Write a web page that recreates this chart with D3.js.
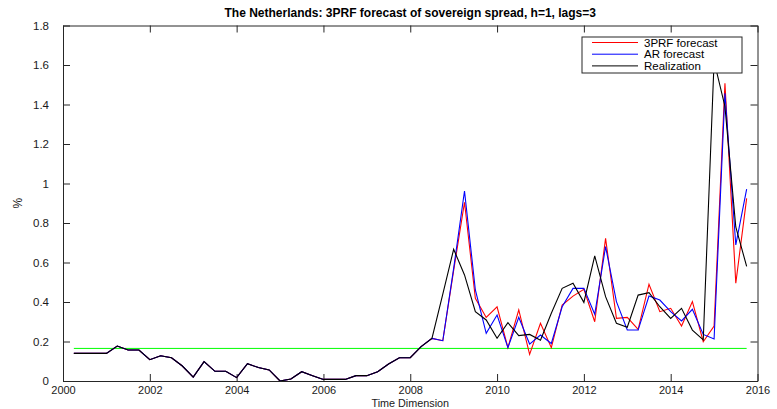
<!DOCTYPE html>
<html>
<head>
<meta charset="utf-8">
<script src="https://cdn.jsdelivr.net/npm/d3@7/dist/d3.min.js"></script>
<style>
  html, body { margin: 0; padding: 0; background: #fff; }
  svg { display: block; font-family: "Liberation Sans", Arial, Helvetica, sans-serif; }
</style>
</head>
<body>
<svg id="chart" width="777" height="409"></svg>
<script>
// Quarterly observations, 2000Q2 .. 2015Q4
const startYear = 2000.25;
const step = 0.25;

const realization = [
  0.14, 0.14, 0.14, 0.14, 0.177, 0.157, 0.157, 0.108, 0.128, 0.118,
  0.076, 0.02, 0.098, 0.049, 0.049, 0.017, 0.088, 0.068, 0.056, 0.0,
  0.01, 0.047, 0.027, 0.008, 0.008, 0.008, 0.027, 0.027, 0.047, 0.086,
  0.118, 0.118, 0.174, 0.216, 0.44, 0.667, 0.537, 0.351, 0.309, 0.216,
  0.295, 0.23, 0.236, 0.207, 0.343, 0.469, 0.495, 0.398, 0.634, 0.427,
  0.292, 0.272, 0.435, 0.447, 0.376, 0.317, 0.368, 0.258, 0.208, 1.62,
  1.39, 0.78, 0.58
];

const forecast3PRF = [
  0.14, 0.14, 0.14, 0.14, 0.177, 0.157, 0.157, 0.108, 0.128, 0.118,
  0.076, 0.02, 0.098, 0.049, 0.049, 0.017, 0.088, 0.068, 0.056, 0.0,
  0.01, 0.047, 0.027, 0.008, 0.008, 0.008, 0.027, 0.027, 0.047, 0.086,
  0.118, 0.118, 0.174, 0.216, 0.204, 0.56, 0.905, 0.419, 0.322, 0.376,
  0.169, 0.36, 0.135, 0.292, 0.169, 0.385, 0.43, 0.464, 0.30, 0.722,
  0.317, 0.322, 0.262, 0.49, 0.351, 0.368, 0.278, 0.402, 0.199, 0.278,
  1.507, 0.495, 0.925
];

const forecastAR = [
  0.14, 0.14, 0.14, 0.14, 0.177, 0.157, 0.157, 0.108, 0.128, 0.118,
  0.076, 0.02, 0.098, 0.049, 0.049, 0.017, 0.088, 0.068, 0.056, 0.0,
  0.01, 0.047, 0.027, 0.008, 0.008, 0.008, 0.027, 0.027, 0.047, 0.086,
  0.118, 0.118, 0.174, 0.216, 0.204, 0.57, 0.962, 0.461, 0.241, 0.334,
  0.169, 0.322, 0.187, 0.233, 0.19, 0.376, 0.469, 0.469, 0.338, 0.68,
  0.402, 0.258, 0.258, 0.43, 0.41, 0.351, 0.304, 0.363, 0.236, 0.213,
  1.457, 0.689, 0.971
];

const thresholdLevel = 0.165;

const xTicks = [2000, 2002, 2004, 2006, 2008, 2010, 2012, 2014, 2016];
const yTicks = [0, 0.2, 0.4, 0.6, 0.8, 1, 1.2, 1.4, 1.6, 1.8];

const seriesNames = ["3PRF forecast", "AR forecast", "Realization"];
const seriesColors = ["#ff0000", "#0000ff", "#000000"];

const titleText = "The Netherlands: 3PRF forecast of sovereign spread, h=1, lags=3";
const xLabel = "Time Dimension";
const yLabel = "%";

// ---- layout ----
const svg = d3.select("#chart");
const W = 777, H = 409;
const margin = { left: 63, right: W - 757.5, top: 25.5, bottom: H - 381 };
const x = d3.scaleLinear().domain([2000, 2016]).range([margin.left, W - margin.right]);
const y = d3.scaleLinear().domain([0, 1.8]).range([H - margin.bottom, margin.top]);

const dates = realization.map((_, i) => startYear + i * step);
const axisColor = "#262626";
const tickLen = 7;

// clip for the data lines
svg.append("defs").append("clipPath").attr("id", "plotClip")
  .append("rect")
  .attr("x", x.range()[0]).attr("y", y.range()[1])
  .attr("width", x.range()[1] - x.range()[0])
  .attr("height", y.range()[0] - y.range()[1]);

// ---- axes (box with inward ticks on all sides) ----
const bottomAxis = d3.axisBottom(x).tickValues(xTicks).tickFormat(d3.format("d"))
  .tickSizeInner(-tickLen).tickSizeOuter(0).tickPadding(8);
const topAxis = d3.axisTop(x).tickValues(xTicks).tickFormat("")
  .tickSizeInner(-tickLen).tickSizeOuter(0);
const leftAxis = d3.axisLeft(y).tickValues(yTicks).tickFormat(d3.format("~g"))
  .tickSizeInner(-tickLen).tickSizeOuter(0).tickPadding(tickLen + 7);
const rightAxis = d3.axisRight(y).tickValues(yTicks).tickFormat("")
  .tickSizeInner(-tickLen).tickSizeOuter(0);

function styleAxis(g) {
  g.selectAll("path.domain").attr("stroke", axisColor).attr("stroke-width", 1);
  g.selectAll(".tick line").attr("stroke", axisColor).attr("stroke-width", 1);
  g.selectAll(".tick text").attr("fill", "#1a1a1a").attr("font-size", 11.5)
    .attr("font-family", "Liberation Sans, Arial, sans-serif");
}

const gB = svg.append("g").attr("transform", `translate(0,${y(0)})`).call(bottomAxis).call(styleAxis);
gB.selectAll(".tick text").attr("font-size", 11).attr("dy", "0.45em");
svg.append("g").attr("transform", `translate(0,${y(1.8)})`).call(topAxis).call(styleAxis);
svg.append("g").attr("transform", `translate(${x(2000)},0)`).call(leftAxis).call(styleAxis);
svg.append("g").attr("transform", `translate(${x(2016)},0)`).call(rightAxis).call(styleAxis);

// ---- data lines ----
const plot = svg.append("g").attr("clip-path", "url(#plotClip)");

plot.append("line")
  .attr("x1", x(dates[0])).attr("x2", x(dates[dates.length - 1]))
  .attr("y1", y(thresholdLevel)).attr("y2", y(thresholdLevel))
  .attr("stroke", "#00ff00").attr("stroke-width", 1);

const line = d3.line().x((d, i) => x(dates[i])).y(d => y(d));

[forecast3PRF, forecastAR, realization].forEach((vals, k) => {
  plot.append("path")
    .datum(vals)
    .attr("d", line)
    .attr("fill", "none")
    .attr("stroke", seriesColors[k])
    .attr("stroke-width", 1.1)
    .attr("stroke-linejoin", "miter");
});

// ---- labels ----
svg.append("text")
  .attr("x", (x(2000) + x(2016)) / 2).attr("y", 17)
  .attr("text-anchor", "middle")
  .attr("font-size", 12).attr("font-weight", "bold").attr("fill", "#000")
  .text(titleText);

svg.append("text")
  .attr("x", (x(2000) + x(2016)) / 2).attr("y", 406.8)
  .attr("text-anchor", "middle")
  .attr("font-size", 10.8).attr("fill", "#1a1a1a")
  .text(xLabel);

svg.append("text")
  .attr("transform", `translate(22,${(y(0) + y(1.8)) / 2}) rotate(-90)`)
  .attr("text-anchor", "middle")
  .attr("font-size", 12).attr("fill", "#1a1a1a")
  .text(yLabel);

// ---- legend ----
const lg = svg.append("g").attr("transform", "translate(582,37)");
lg.append("rect").attr("width", 160).attr("height", 36)
  .attr("fill", "#fff").attr("stroke", axisColor).attr("stroke-width", 1);
seriesNames.forEach((name, i) => {
  const ry = 5.5 + i * 11.7;
  lg.append("line").attr("x1", 10).attr("x2", 56).attr("y1", ry).attr("y2", ry)
    .attr("stroke", seriesColors[i]).attr("stroke-width", 1);
  lg.append("text").attr("x", 62).attr("y", ry + 4)
    .attr("font-size", 11.5).attr("fill", "#000").text(name);
});
</script>
</body>
</html>
